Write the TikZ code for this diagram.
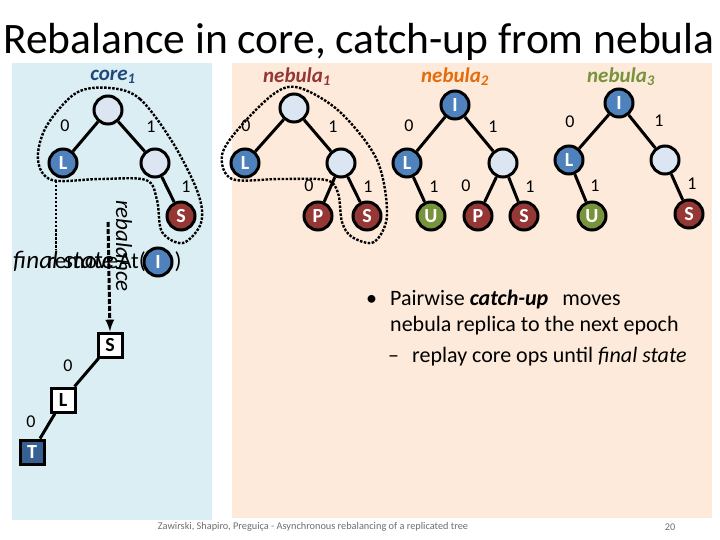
\documentclass[tikz,border=0pt]{standalone}
\usepackage{fontspec}
\setmainfont{Carlito}
\usetikzlibrary{arrows, positioning, calc}
\definecolor{corebg}{RGB}{219,238,244}
\definecolor{nebulabg}{RGB}{253,234,218}
\definecolor{emptycolor}{RGB}{220,230,242}
\definecolor{bluecolor}{RGB}{79,129,189}
\definecolor{redcolor}{RGB}{149,55,53}
\definecolor{greencolor}{RGB}{119,147,60}
\definecolor{orangecolor}{RGB}{228,108,10}
\definecolor{navycolor}{RGB}{31,73,125}
\definecolor{tcolor}{RGB}{54,96,146}
\definecolor{footcolor}{RGB}{110,110,110}

\begin{document}
\begin{tikzpicture}[x=1pt, y=-1pt,
    emptynode/.style={circle, draw, line width=3pt, fill=emptycolor, minimum size=28pt, inner sep=0pt},
    bluenode/.style={emptynode, fill=bluecolor, text=white, font=\bfseries\fontsize{20}{20}\selectfont},
    rednode/.style={bluenode, fill=redcolor},
    greennode/.style={bluenode, fill=greencolor},
    sqnode/.style={rectangle, draw, line width=3pt, fill=white, minimum size=24pt, inner sep=0pt, font=\bfseries\fontsize{20}{20}\selectfont},
    edge/.style={line width=3pt},
    bit/.style={inner sep=0pt, font=\fontsize{18}{18}\selectfont},
    treename/.style={inner sep=0pt, font=\bfseries\itshape\fontsize{21}{21}\selectfont},
    replica/.style={line width=2.4pt, dash pattern=on 2.5pt off 1.5pt},
    arrow/.style={-latex, line width=3pt, dash pattern=on 5pt off 2pt},
    bodytext/.style={inner sep=0pt, anchor=base west, font=\fontsize{22}{22}\selectfont}
]

    % Background panels
    \useasboundingbox (0,0) rectangle (720,540);
    \fill[corebg] (12,63) rectangle (212,520);
    \fill[nebulabg] (232,63) rectangle (712,518);

    % Title
    \node[inner sep=0pt, font=\fontsize{43.5}{43.5}\selectfont] (title) at (359,42) {Rebalance in core, catch-up from nebula};

    % core_1
    \node[treename, text=navycolor] (c1name) at (113,77) {core\textsubscript{1}};
    \draw[replica] plot[smooth cycle, tension=0.55] coordinates {
        (110,88) (140,99) (173,143) (198,193) (201,223) (183,243)
        (162,232) (157,200) (146,180) (100,179) (52,180) (38,160)
        (46,127) (76,93)};
    \node[emptynode] (c1root) at (108,110) {};
    \node[bluenode] (c1L) at (63,163) {L};
    \node[emptynode] (c1R) at (155,163) {};
    \node[rednode] (c1S) at (181,216) {S};
    \draw[edge] (c1root) -- (c1L);
    \draw[edge] (c1root) -- (c1R);
    \draw[edge] (c1R) -- (c1S);
    \node[bit] at (65,126) {0};
    \node[bit] at (151,127) {1};
    \node[bit] at (186,187) {1};

    % final state / removeAt(I)
    \node[inner sep=0pt, anchor=base west, font=\itshape\fontsize{25}{25}\selectfont] (finalstate) at (13,268) {final state};
    \node[inner sep=0pt, anchor=base west, font=\fontsize{23}{23}\selectfont] (removeat) at (47,268) {removeAt(};
    \node[bluenode] (iop) at (158,262) {I};
    \node[inner sep=0pt, font=\fontsize{23}{23}\selectfont, right=1pt of iop.east, anchor=west] (closeop) {)};
    \coordinate (pointtop) at (56,181);
    \draw[replica] (pointtop) -- (pointtop |- finalstate.north);

    % rebalance
    \coordinate (rebtop) at (108,222);
    \node[inner sep=0pt, rotate=-90, font=\itshape\fontsize{23}{23}\selectfont] (rebalance) at (124,246) {rebalance};
    \node[sqnode] (s2S) at (110,345) {S};
    \node[sqnode] (s2L) at (63,400) {L};
    \node[sqnode, fill=tcolor, text=white] (s2T) at (32,452) {T};
    \draw[arrow] (rebtop) -- (s2S.north);
    \draw[edge] (s2S) -- (s2L);
    \draw[edge] (s2L) -- (s2T);
    \node[bit] at (68,366) {0};
    \node[bit] at (31,422) {0};

    % nebula_1
    \node[treename, text=redcolor] (n1name) at (297,77) {nebula\textsubscript{1}};
    \draw[replica] plot[smooth cycle, tension=0.55] coordinates {
        (300,88) (340,112) (377,160) (387,215) (374,242) (352,237)
        (342,222) (338,193) (326,180) (280,179) (232,179) (222,155)
        (240,127) (275,93)};
    \node[emptynode] (n1root) at (294,108) {};
    \node[bluenode] (n1L) at (245,163) {L};
    \node[emptynode] (n1R) at (341,163) {};
    \node[rednode] (n1P) at (318,216) {P};
    \node[rednode] (n1S) at (367,216) {S};
    \draw[edge] (n1root) -- (n1L);
    \draw[edge] (n1root) -- (n1R);
    \draw[edge] (n1R) -- (n1P);
    \draw[edge] (n1R) -- (n1S);
    \node[bit] at (246,126) {0};
    \node[bit] at (333,127) {1};
    \node[bit] at (309,186) {0};
    \node[bit] at (368,187) {1};

    % nebula_2
    \node[treename, text=orangecolor] (n2name) at (455,77) {nebula\textsubscript{2}};
    \node[bluenode] (n2root) at (455,105) {I};
    \node[bluenode] (n2L) at (407,163) {L};
    \node[emptynode] (n2R) at (503,163) {};
    \node[greennode] (n2U) at (431,216) {U};
    \node[rednode] (n2P) at (478,216) {P};
    \node[rednode] (n2S) at (524,216) {S};
    \draw[edge] (n2root) -- (n2L);
    \draw[edge] (n2root) -- (n2R);
    \draw[edge] (n2L) -- (n2U);
    \draw[edge] (n2R) -- (n2P);
    \draw[edge] (n2R) -- (n2S);
    \node[bit] at (409,126) {0};
    \node[bit] at (493,127) {1};
    \node[bit] at (434,187) {1};
    \node[bit] at (466,186) {0};
    \node[bit] at (530,187) {1};

    % nebula_3
    \node[treename, text=greencolor] (n3name) at (621,77) {nebula\textsubscript{3}};
    \node[bluenode] (n3root) at (619,103) {I};
    \node[bluenode] (n3L) at (569,160) {L};
    \node[emptynode] (n3R) at (665,160) {};
    \node[greennode] (n3U) at (592,216) {U};
    \node[rednode] (n3S) at (689,214) {S};
    \draw[edge] (n3root) -- (n3L);
    \draw[edge] (n3root) -- (n3R);
    \draw[edge] (n3L) -- (n3U);
    \draw[edge] (n3R) -- (n3S);
    \node[bit] at (570,122) {0};
    \node[bit] at (659,121) {1};
    \node[bit] at (595,186) {1};
    \node[bit] at (692,184) {1};

    % Bullets
    \node[bodytext] (bullet) at (366,305) {\textbullet};
    \node[bodytext] (line1) at (390,305) {Pairwise\hspace{5pt}\textbf{\textit{catch-up}}\hspace{14pt}moves};
    \node[bodytext] (line2) at (390,331) {nebula replica to the next epoch};
    \node[bodytext] (dash) at (388,362) {--};
    \node[bodytext] (line3) at (412,362) {replay core ops until \textit{final state}};

    % Footer
    \node[inner sep=0pt, text=footcolor, font=\fontsize{10.3}{10.3}\selectfont] (footer) at (313,527) {Zawirski, Shapiro, Preguiça - Asynchronous rebalancing of a replicated tree};
    \node[inner sep=0pt, text=footcolor, font=\fontsize{10.3}{10.3}\selectfont] (pagenum) at (670,527) {20};

\end{tikzpicture}
\end{document}
